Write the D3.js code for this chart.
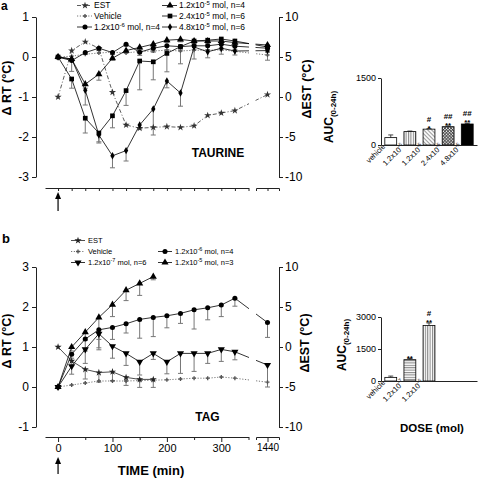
<!DOCTYPE html>
<html><head><meta charset="utf-8">
<script src="https://cdn.jsdelivr.net/npm/d3@7"></script>
<style>body{margin:0;background:#fff}</style>
</head><body>
<svg id="c" width="480" height="478"></svg>
<script>
// ---------------- DATA ----------------
const timesA = [0,25,50,75,100,125,150,175,200,225,250,275,300,325,1440];
const estA = [0,5.8,6.9,6.1,0.6,-3.5,-3.9,-3.8,-3.7,-3.8,-3.6,-2.3,-2.0,-1.7,0.3];
const vehA = [0,0.02,0.07,0.1,0.12,0.1,0.14,0.15,0.17,0.15,0.17,0.17,0.18,0.14,0.05];
const mol12e6A = [0,-0.09,0.11,0.22,0.11,0.32,0.12,0.22,0.28,0.26,0.28,0.28,0.32,0.27,0.22];
const sd12e6A = [0,0.27,0.05,0.06,0.05,0.05,0.08,0.1,0.1,0.08,0.1,0.1,0.1,0.08,0.1];
const mol12e5A = [0,-0.05,-0.68,-0.43,-0.03,0.16,0.24,0.32,0.42,0.44,0.4,0.4,0.4,0.36,0.3];
const sd12e5A = [0,0.05,0.1,0.15,0.05,0.05,0.06,0.06,0.06,0.06,0.06,0.06,0.08,0.08,0.08];
const mol24e5A = [0,-0.55,-1.53,-1.9,-1.47,-0.84,-0.1,-0.12,0.09,0.26,0.4,0.42,0.45,0.4,0.25];
const sd24e5A = [0,0.23,0.37,0.22,0.3,0.37,0.72,0.45,0.46,0.43,0.1,0.12,0.1,0.1,0.12];
const mol48e5A = [0,-0.05,-0.83,-1.95,-2.47,-2.34,-1.7,-1.3,-0.6,-0.9,0.25,0.13,0.22,0.15,0.16];
const sd48e5A = [0,0.05,0.37,0.2,0.3,0.26,0.1,0.65,0.17,0.33,0.3,0.15,0.15,0.1,0.24];

const timesB = [0,25,50,75,100,125,150,175,200,225,250,275,300,325,1440];
const estB = [0,-1.75,-2.8,-3.2,-3.1,-3.8,-4.05,-4.05];
const sdEstB = [0,0.6,1.2,1.2,1.1,1.0,1.0,1.0];
const vehB = [0,0.05,0.1,0.15,0.15,0.15,0.16,0.17,0.18,0.2,0.22,0.22,0.25,0.22,0.12];
const mol12e7B = [0,0.52,0.94,1.33,1.02,0.84,0.63,0.84,0.63,0.84,0.84,0.84,0.94,0.88,0.55];
const sd12e7B = [0,0.2,0.35,0.35,0.3,0.3,0.33,0.15,0.3,0.5,0.45,0.25,0.3,0.2,0.55];
const mol12e6B = [0,0.82,1.2,1.43,1.49,1.58,1.69,1.74,1.78,1.84,1.93,1.98,2.05,2.22,1.61];
const sd12e6B = [0,0.1,0.3,0.5,0.3,0.23,0.47,0.48,0.3,0.25,0.48,0.3,0.29,0.2,0.37];
const mol12e5B = [0,1.0,1.37,1.74,2.06,2.42,2.59,2.76];
const sd12e5B = [0,0.1,0.2,0.55,0.3,0.26,0.3,0.08];

const ticksLeftA = [-3,-2,-1,0,1];
const ticksLeftB = [-1,0,1,2,3];
const ticksRight = [-10,-5,0,5,10];
const ticksTimeB = [0,100,200,300];

const legendLabelsA = ["EST","Vehicle","1.2x10^-6 mol, n=4","1.2x10^-5 mol, n=4","2.4x10^-5 mol, n=6","4.8x10^-5 mol, n=6"];
const legendLabelsB = ["EST","Vehicle","1.2x10^-7 mol, n=6","1.2x10^-6 mol, n=4","1.2x10^-5 mol, n=3"];

const aucCatsA = ["vehicle","1.2x10^-6","1.2x10^-5","2.4x10^-5","4.8x10^-5"];
const aucA = [165,300,355,410,470];
const aucSdA = [60,12,10,15,15];
const aucStarA = ["","","*","**","**"];
const aucHashA = ["","","#","##","##"];
const aucTicksA = [0,1500];

const aucCatsB = ["vehicle","1.2x10^-7","1.2x10^-6"];
const aucB = [170,1000,2600];
const aucSdB = [60,50,120];
const aucStarB = ["","**","**"];
const aucHashB = ["","","#"];
const aucTicksB = [0,1500,3000];

// ---------------- SETUP ----------------
const FONT = "Arial, 'Liberation Sans', Helvetica, sans-serif";
const svg = d3.select('#c').attr('font-family', FONT);
const defs = svg.append('defs');
function pat(id, w, h, rot, lines, color, sw) {
  const p = defs.append('pattern').attr('id', id).attr('patternUnits','userSpaceOnUse')
    .attr('width', w).attr('height', h);
  if (rot) p.attr('patternTransform', `rotate(${rot})`);
  p.append('rect').attr('width', w).attr('height', h).attr('fill', '#fff');
  lines.forEach(l => p.append('line').attr('x1',l[0]).attr('y1',l[1]).attr('x2',l[2]).attr('y2',l[3])
    .attr('stroke', color).attr('stroke-width', sw));
}
pat('vstr', 2.4, 4, 0, [[0.6,0,0.6,4]], '#333', 0.7);
pat('hstr', 4, 2.4, 0, [[0,0.6,4,0.6]], '#333', 0.7);
pat('diag', 2.8, 4, -45, [[0.6,0,0.6,4]], '#555', 0.7);
pat('cross', 2.2, 2.2, 45, [[0.5,0,0.5,2.2],[0,0.5,2.2,0.5]], '#333', 0.8);

const xMain = d3.scaleLinear().domain([-24,350]).range([45,248.5]);
const xBrk = d3.scaleLinear().domain([1380,1500]).range([256,279]);
const xOf = t => t > 400 ? xBrk(t) : xMain(t);

const yAL = d3.scaleLinear().domain([-3,1]).range([177,17]);
const yAR = d3.scaleLinear().domain([-10,10]).range([177,17]);
const yBL = d3.scaleLinear().domain([-1,3]).range([427,267]);
const yBR = d3.scaleLinear().domain([-10,10]).range([427,267]);

const ST = {
  est:  {stroke:'#333', dash:'4,2,1,2', sym:d3.symbolStar, size:16, fill:'#333', w:0.8},
  estS: {stroke:'#222', dash:null, sym:d3.symbolStar, size:16, fill:'#222', w:0.8},
  veh:  {stroke:'#555', dash:'1.2,1.6', sym:d3.symbolCross, size:9, fill:'#555', w:0.8},
  circ: {stroke:'#000', dash:null, sym:d3.symbolCircle, size:20, fill:'#000', w:0.8},
  tri:  {stroke:'#000', dash:null, sym:d3.symbolTriangle, size:22, fill:'#000', w:0.8},
  sq:   {stroke:'#000', dash:null, sym:d3.symbolSquare, size:22, fill:'#000', w:0.8},
  dia:  {stroke:'#000', dash:null, sym:d3.symbolDiamond, size:16, fill:'#000', w:0.8},
  triD: {stroke:'#000', dash:null, sym:d3.symbolTriangle, size:22, fill:'#000', w:0.8, rot:180}
};

function richText(sel, str, supSize) {
  const m = str.match(/^(.*?)\^(\S+)(.*)$/);
  if (!m) { sel.text(str); return sel; }
  sel.append('tspan').text(m[1]);
  sel.append('tspan').attr('dy', -3.2).attr('font-size', supSize).text(m[2]);
  sel.append('tspan').attr('dy', 3.2).text(m[3]);
  return sel;
}
function marker(g, x, y, st) {
  g.append('path').attr('d', d3.symbol().type(st.sym).size(st.size)())
    .attr('transform', `translate(${x},${y})` + (st.rot ? ` rotate(${st.rot})` : ''))
    .attr('fill', st.fill);
}

function drawPanel(layers, list) {
  list.forEach(s => {
    const pts = s.times.map((t,i) => ({t, v:s.vals[i], sd: s.sd ? s.sd[i] : 0}));
    pts.filter(p => p.sd > 0).forEach(p => {
      const x = xOf(p.t), y0 = s.y(p.v), y1 = s.y(p.v - p.sd);
      layers.err.append('line').attr('x1',x).attr('x2',x).attr('y1',y0).attr('y2',y1);
      layers.err.append('line').attr('x1',x-2.5).attr('x2',x+2.5).attr('y1',y1).attr('y2',y1);
    });
    layers.line.append('path').datum(pts)
      .attr('d', d3.line().x(p => xOf(p.t)).y(p => s.y(p.v)))
      .attr('fill','none').attr('stroke', s.st.stroke).attr('stroke-width', s.st.w)
      .attr('stroke-dasharray', s.st.dash);
    pts.forEach(p => marker(layers.mark, xOf(p.t), s.y(p.v), s.st));
  });
}
function mkLayers() {
  const g = svg.append('g');
  return {err: g.append('g').attr('stroke','#777').attr('stroke-width',1),
          line: g.append('g'), mark: g.append('g')};
}
function styleAxis(g, fs) {
  g.attr('font-family', FONT).attr('font-size', fs);
  g.selectAll('path.domain').attr('stroke','#222');
  g.selectAll('.tick line').attr('stroke','#222');
  g.selectAll('.tick text').attr('fill','#000');
}
function legend(items, fs, supFs) {
  items.forEach(it => {
    const g = svg.append('g');
    g.append('line').attr('x1',it.x1).attr('x2',it.x2).attr('y1',it.y).attr('y2',it.y)
      .attr('stroke', it.st.stroke).attr('stroke-width', it.st.w).attr('stroke-dasharray', it.st.dash);
    marker(g, it.mx, it.y, it.st);
    richText(g.append('text').attr('x', it.tx).attr('y', it.y + fs*0.35).attr('font-size', fs), it.label, supFs);
  });
}
function arrow(x, yTop, yBot) {
  svg.append('line').attr('x1',x).attr('x2',x).attr('y1',yTop+5).attr('y2',yBot).attr('stroke','#000').attr('stroke-width',1.2);
  svg.append('path').attr('d', `M${x},${yTop}L${x-3},${yTop+7}L${x+3},${yTop+7}Z`).attr('fill','#000');
}
function rotLabel(x, y, str, fs) {
  svg.append('text').attr('transform', `translate(${x},${y}) rotate(-90)`).attr('text-anchor','middle')
    .attr('font-size', fs).attr('font-weight','bold').text(str);
}

// ---------------- PANEL A ----------------
const LA = mkLayers();
drawPanel(LA, [
  {times: timesA, vals: vehA, y: yAL, st: ST.veh},
  {times: timesA, vals: estA, y: yAR, st: ST.est},
  {times: timesA, vals: mol48e5A, sd: sd48e5A, y: yAL, st: ST.dia},
  {times: timesA, vals: mol24e5A, sd: sd24e5A, y: yAL, st: ST.sq},
  {times: timesA, vals: mol12e5A, sd: sd12e5A, y: yAL, st: ST.tri},
  {times: timesA, vals: mol12e6A, sd: sd12e6A, y: yAL, st: ST.circ}
]);
svg.append('rect').attr('x',249).attr('y',10).attr('width',6.5).attr('height',176).attr('fill','#fff');

styleAxis(svg.append('g').attr('transform','translate(36,0)')
  .call(d3.axisLeft(yAL).tickValues(ticksLeftA).tickSize(4).tickPadding(3).tickSizeOuter(0).tickFormat(d => String(d))), 12);
styleAxis(svg.append('g').attr('transform','translate(279,0)')
  .call(d3.axisRight(yAR).tickValues(ticksRight).tickSize(4).tickPadding(2).tickSizeOuter(0).tickFormat(d => String(d))), 12);
styleAxis(svg.append('g').attr('transform','translate(0,188)')
  .call(d3.axisBottom(xMain).tickValues(d3.range(0,351,25)).tickSize(3).tickSizeOuter(0).tickFormat('')), 10);
styleAxis(svg.append('g').attr('transform','translate(0,188)')
  .call(d3.axisBottom(xBrk).tickValues([1440]).tickSize(3).tickSizeOuter(3).tickFormat('')), 10);

legend([
  {label: legendLabelsA[0], st: ST.est, x1:77, x2:92, mx:85, tx:94, y:5.5},
  {label: legendLabelsA[1], st: ST.veh, x1:77, x2:92, mx:85, tx:94, y:16},
  {label: legendLabelsA[2], st: ST.circ, x1:77, x2:92, mx:85, tx:94, y:27},
  {label: legendLabelsA[3], st: ST.tri, x1:162, x2:177, mx:170, tx:179, y:5.5},
  {label: legendLabelsA[4], st: ST.sq, x1:162, x2:177, mx:170, tx:179, y:16},
  {label: legendLabelsA[5], st: ST.dia, x1:162, x2:177, mx:170, tx:179, y:27}
], 8.5, 6);

svg.append('text').attr('x',1).attr('y',10).attr('font-size',12).attr('font-weight','bold').text('a');
rotLabel(11, 88, 'Δ RT (°C)', 12.5);
rotLabel(311, 89, 'ΔEST (°C)', 12.5);
svg.append('text').attr('x',218).attr('y',157).attr('text-anchor','middle').attr('font-size',12).attr('font-weight','bold').text('TAURINE');
arrow(xMain(0), 192, 211);

// ---------------- PANEL B ----------------
const LB = mkLayers();
drawPanel(LB, [
  {times: timesB, vals: vehB, y: yBL, st: ST.veh},
  {times: timesB.slice(0, estB.length), vals: estB, sd: sdEstB, y: yBR, st: ST.estS},
  {times: timesB, vals: mol12e7B, sd: sd12e7B, y: yBL, st: ST.triD},
  {times: timesB, vals: mol12e6B, sd: sd12e6B, y: yBL, st: ST.circ},
  {times: timesB.slice(0, mol12e5B.length), vals: mol12e5B, sd: sd12e5B, y: yBL, st: ST.tri}
]);
svg.append('rect').attr('x',249).attr('y',262).attr('width',7).attr('height',173).attr('fill','#fff');

styleAxis(svg.append('g').attr('transform','translate(36,0)')
  .call(d3.axisLeft(yBL).tickValues(ticksLeftB).tickSize(4).tickPadding(3).tickSizeOuter(0).tickFormat(d => String(d))), 12);
styleAxis(svg.append('g').attr('transform','translate(279,0)')
  .call(d3.axisRight(yBR).tickValues(ticksRight).tickSize(4).tickPadding(2).tickSizeOuter(0).tickFormat(d => String(d))), 12);
const gxB = svg.append('g').attr('transform','translate(0,437)')
  .call(d3.axisBottom(xMain).tickValues(d3.range(0,351,50)).tickSize(3).tickSizeOuter(0)
    .tickFormat(d => ticksTimeB.includes(d) ? String(d) : ''));
gxB.selectAll('.tick').filter(d => ticksTimeB.includes(d)).select('line').attr('y2', 5);
gxB.selectAll('.tick').filter(d => ticksTimeB.includes(d)).select('text').attr('y', 7);
styleAxis(gxB, 11);
const gxB2 = svg.append('g').attr('transform','translate(0,437)')
  .call(d3.axisBottom(xBrk).tickValues([1440]).tickSize(5).tickSizeOuter(3).tickFormat(d => String(d)));
gxB2.selectAll('.tick text').attr('y', 7);
styleAxis(gxB2, 10);

legend([
  {label: legendLabelsB[0], st: ST.estS, x1:71, x2:85, mx:78, tx:88, y:240.5},
  {label: legendLabelsB[1], st: ST.veh, x1:71, x2:85, mx:78, tx:88, y:251.5},
  {label: legendLabelsB[2], st: ST.triD, x1:71, x2:85, mx:78, tx:88, y:262.5},
  {label: legendLabelsB[3], st: ST.circ, x1:158, x2:172, mx:165, tx:175, y:251.5},
  {label: legendLabelsB[4], st: ST.tri, x1:158, x2:172, mx:165, tx:175, y:262.5}
], 7.5, 5.5);

svg.append('text').attr('x',2).attr('y',243).attr('font-size',13).attr('font-weight','bold').text('b');
rotLabel(11, 341, 'Δ RT (°C)', 12.5);
rotLabel(309, 343, 'ΔEST (°C)', 12.5);
svg.append('text').attr('x',207.5).attr('y',421).attr('text-anchor','middle').attr('font-size',12).attr('font-weight','bold').text('TAG');
svg.append('text').attr('x',151).attr('y',475).attr('text-anchor','middle').attr('font-size',13).attr('font-weight','bold').text('TIME (min)');
arrow(xMain(0), 457, 474);

// ---------------- INSETS ----------------
const fillsA = ['#fff','url(#vstr)','url(#diag)','url(#cross)','#000'];
const fillsB = ['#fff','url(#hstr)','url(#vstr)'];
function inset(cfg) {
  const y = d3.scaleLinear().domain([0, cfg.max]).range([cfg.y0, cfg.y1]);
  const x = d3.scaleBand().domain(d3.range(5)).range([381, 477]).paddingInner(0.38).paddingOuter(0.2);
  const g = svg.append('g');
  cfg.vals.forEach((v, i) => {
    const bx = x(i), bw = x.bandwidth(), cx = bx + bw/2;
    const top = y(v), et = y(v + cfg.sd[i]);
    g.append('line').attr('x1',cx).attr('x2',cx).attr('y1',top).attr('y2',et).attr('stroke','#444').attr('stroke-width',1);
    g.append('line').attr('x1',cx-2.5).attr('x2',cx+2.5).attr('y1',et).attr('y2',et).attr('stroke','#444').attr('stroke-width',1);
    g.append('rect').attr('x',bx).attr('y',top).attr('width',bw).attr('height',cfg.y0-top)
      .attr('fill', cfg.fills[i]).attr('stroke','#000').attr('stroke-width',0.8);
    if (cfg.star[i]) g.append('text').attr('x',cx).attr('y',et+2).attr('text-anchor','middle')
      .attr('font-size',8).attr('font-weight','bold').text(cfg.star[i]);
    if (cfg.hash[i]) g.append('text').attr('x',cx).attr('y',et-7).attr('text-anchor','middle')
      .attr('font-size',8).attr('font-weight','bold').text(cfg.hash[i]);
    const lg = g.append('g').attr('transform', `translate(${cx-5},${cfg.y0+2}) rotate(-45)`);
    const tx = richText(lg.append('text').attr('font-size',7.5).attr('fill','#000'), cfg.cats[i], 5.2);
    tx.attr('x', -tx.node().getComputedTextLength());
  });
  styleAxis(svg.append('g').attr('transform','translate(381,0)')
    .call(d3.axisLeft(y).tickValues(cfg.ticks).tickSize(3).tickPadding(2).tickSizeOuter(0).tickFormat(d => String(d))), 9);
  styleAxis(svg.append('g').attr('transform',`translate(0,${cfg.y0})`)
    .call(d3.axisBottom(x).tickSize(0).tickSizeOuter(0).tickFormat('')), 9);
  const t = svg.append('text').attr('transform', `translate(${cfg.lx},${cfg.ly}) rotate(-90)`)
    .attr('text-anchor','middle').attr('font-weight','bold');
  t.append('tspan').attr('font-size',12).text('AUC');
  t.append('tspan').attr('font-size',8).attr('dy',3).text('(0-24h)');
}
inset({max:1500, y0:145, y1:78, vals:aucA, sd:aucSdA, fills:fillsA, star:aucStarA, hash:aucHashA,
       cats:aucCatsA, ticks:aucTicksA, lx:333, ly:117});
inset({max:3000, y0:381, y1:317, vals:aucB, sd:aucSdB, fills:fillsB, star:aucStarB, hash:aucHashB,
       cats:aucCatsB, ticks:aucTicksB, lx:346, ly:345});
svg.append('text').attr('x',432).attr('y',432).attr('text-anchor','middle').attr('font-size',11.5).attr('font-weight','bold').text('DOSE (mol)');
</script>
</body></html>
